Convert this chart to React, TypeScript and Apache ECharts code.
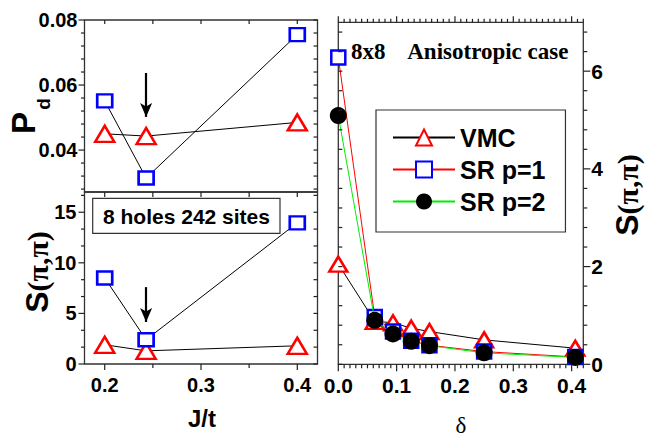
import React, { useEffect, useRef } from 'react';
import * as echarts from 'echarts';

// ---- data ----
const jt = [0.2, 0.243, 0.4];
const pdVMC = [0.045, 0.0443, 0.0485];
const pdSR1 = [0.0551, 0.0314, 0.0755];
const sLeftVMC = [1.9, 1.3, 1.8];
const sLeftSR1 = [8.5, 2.4, 13.95];

const delta = [0, 0.0625, 0.09375, 0.125, 0.15625, 0.25, 0.40625];
const sVMC = [2.05, 0.88, 0.85, 0.74, 0.67, 0.5, 0.33];
const sSR1 = [6.28, 0.97, 0.67, 0.48, 0.39, 0.26, 0.15];
const sSR2 = [5.09, 0.9, 0.62, 0.47, 0.38, 0.235, 0.14];

const arrowJt = 0.243;
const arrowTop = [0.0637, 0.0502];
const arrowBottom = [7.6, 4.15];

// ---- tick labels ----
const jtTicks = [0.2, 0.3, 0.4];
const jtMinor = [0.25, 0.35];
const pdTicks = [0.04, 0.06, 0.08];
const sLeftTicks = [0, 5, 10, 15];
const deltaTicks = [0, 0.1, 0.2, 0.3, 0.4];
const sRightTicks = [0, 2, 4, 6];

const FONT = '"Liberation Sans", Arial, Helvetica, sans-serif';
const SERIF = '"Liberation Serif", "Times New Roman", serif';

function between(a: number, b: number, step: number, skip: number[]) {
  const out: number[] = [];
  for (let i = 0; a + i * step <= b + 1e-9; i++) {
    const v = Math.round((a + i * step) * 1e6) / 1e6;
    if (!skip.some((s) => Math.abs(s - v) < 1e-7)) out.push(v);
  }
  return out;
}

const pdMinor = between(0.028, 0.08, 0.004, pdTicks);
const sLeftMinor = between(0, 17, 5 / 3, sLeftTicks);
const deltaMinor = between(0, 0.42, 0.01, deltaTicks);
const sRightMinor = between(0, 7, 0.4, sRightTicks);

const JT_MIN = 0.179;
const JT_MAX = 0.421;
const PD_MIN = 0.0271;
const PD_MAX = 0.08;
const SL_MAX = 17;
const D_MAX = 0.42;
const SR_MAX = 7;

function ax(gridIndex: number, position: string, min: number, max: number, o: any = {}) {
  return {
    type: 'value',
    gridIndex,
    position,
    min,
    max,
    axisLine: { show: false, onZero: false },
    splitLine: { show: false },
    minorTick: { show: false },
    axisTick: { show: false },
    axisLabel: o.labels
      ? {
          show: true,
          customValues: o.labels,
          formatter: o.fmt,
          margin: o.margin ?? 8,
          fontSize: o.fs ?? 20,
          fontWeight: 'bold',
          fontFamily: FONT,
          color: '#000',
        }
      : { show: false },
  };
}

// tick marks drawn through the axes' own scales
function ticks(xi: number, yi: number, axis: 'x' | 'y', values: number[], at: number, dir: number, len: number) {
  return {
    type: 'custom',
    xAxisIndex: xi,
    yAxisIndex: yi,
    silent: true,
    clip: false,
    z: 6,
    data: values.map((v) => (axis === 'x' ? [v, at] : [at, v])),
    renderItem: (_p: any, api: any) => {
      const p = api.coord([api.value(0), api.value(1)]);
      const x2 = axis === 'x' ? p[0] : p[0] + dir * len;
      const y2 = axis === 'x' ? p[1] + dir * len : p[1];
      return { type: 'line', shape: { x1: p[0], y1: p[1], x2, y2 }, style: { stroke: '#222', lineWidth: 1.2 } };
    },
  };
}

const triLeft = { symbol: 'triangle', symbolSize: [19, 16], itemStyle: { color: '#fff', borderColor: '#ff0000', borderWidth: 2.5 } };
const sqLeft = { symbol: 'rect', symbolSize: [15, 13], itemStyle: { color: '#fff', borderColor: '#0000ff', borderWidth: 2.5 } };

const arrowLine = (from: number, to: number) => ({
  silent: true,
  symbol: ['none', 'arrow'],
  symbolSize: [9, 14],
  label: { show: false },
  lineStyle: { color: '#000', width: 2.2, type: 'solid' },
  data: [[{ coord: [arrowJt, from] }, { coord: [arrowJt, to] }]],
});

const gridStyle = { show: true, borderColor: '#333', borderWidth: 1.3, containLabel: false };

const option: any = {
  animation: false,
  backgroundColor: '#fff',
  grid: [
    { left: 84.5, top: 20, width: 233, height: 172, ...gridStyle },
    { left: 84.5, top: 192, width: 233, height: 172, ...gridStyle },
    { left: 338.3, top: 22.3, width: 245, height: 342, ...gridStyle },
  ],
  xAxis: [
    ax(0, 'bottom', JT_MIN, JT_MAX),
    ax(1, 'bottom', JT_MIN, JT_MAX, { labels: jtTicks, fmt: (v: number) => v.toFixed(1), margin: 11 }),
    ax(2, 'bottom', 0, D_MAX, { labels: deltaTicks, fmt: (v: number) => v.toFixed(1), margin: 11, fs: 21 }),
  ],
  yAxis: [
    ax(0, 'left', PD_MIN, PD_MAX, { labels: pdTicks, fmt: (v: number) => v.toFixed(2), margin: 7 }),
    ax(1, 'left', 0, SL_MAX, { labels: sLeftTicks, fmt: (v: number) => String(v), margin: 8 }),
    ax(2, 'right', 0, SR_MAX, { labels: sRightTicks, fmt: (v: number) => String(v), margin: 8, fs: 21 }),
  ],
  legend: {
    data: ['VMC', 'SR p=1', 'SR p=2'],
    orient: 'vertical',
    left: 376,
    top: 110,
    padding: [15, 20, 18, 16],
    itemWidth: 62,
    itemHeight: 20,
    itemGap: 7,
    borderColor: '#333',
    borderWidth: 1.2,
    backgroundColor: '#fff',
    selectedMode: false,
    textStyle: { fontSize: 25, fontWeight: 'bold', fontFamily: FONT, color: '#000' },
  },
  series: [
    // ticks: top-left panel
    ticks(0, 0, 'x', [...jtTicks, ...jtMinor], PD_MIN, 1, 5),
    ticks(0, 0, 'x', [...jtTicks, ...jtMinor], PD_MAX, 1, 4),
    ticks(0, 0, 'y', pdTicks, JT_MIN, -1, 6),
    ticks(0, 0, 'y', pdMinor, JT_MIN, -1, 3.5),
    ticks(0, 0, 'y', [...pdTicks, ...pdMinor], JT_MAX, -1, 4),
    // ticks: bottom-left panel
    ticks(1, 1, 'x', jtTicks, 0, 1, 6),
    ticks(1, 1, 'x', jtMinor, 0, 1, 4),
    ticks(1, 1, 'y', sLeftTicks, JT_MIN, -1, 6),
    ticks(1, 1, 'y', sLeftMinor, JT_MIN, -1, 3.5),
    ticks(1, 1, 'y', [...sLeftTicks, ...sLeftMinor], JT_MAX, -1, 4),
    // ticks: right panel
    ticks(2, 2, 'x', deltaTicks, 0, 1, 7),
    ticks(2, 2, 'x', deltaMinor, 0, 1, 4),
    ticks(2, 2, 'x', deltaTicks, SR_MAX, -1, 6),
    ticks(2, 2, 'x', deltaMinor, SR_MAX, -1, 3.5),
    ticks(2, 2, 'y', sRightTicks, D_MAX, 1, 7),
    ticks(2, 2, 'y', sRightMinor, D_MAX, 1, 4),
    ticks(2, 2, 'y', [...sRightTicks, ...sRightMinor], 0, 1, 4),
    {
      type: 'line', name: 'pd-VMC', xAxisIndex: 0, yAxisIndex: 0,
      data: jt.map((x, i) => [x, pdVMC[i]]),
      lineStyle: { color: '#000', width: 1 }, ...triLeft, z: 3,
    },
    {
      type: 'line', name: 'pd-SR1', xAxisIndex: 0, yAxisIndex: 0,
      data: jt.map((x, i) => [x, pdSR1[i]]),
      lineStyle: { color: '#000', width: 1 }, ...sqLeft, z: 4,
      markLine: arrowLine(arrowTop[0], arrowTop[1]),
    },
    {
      type: 'line', name: 's-VMC', xAxisIndex: 1, yAxisIndex: 1,
      data: jt.map((x, i) => [x, sLeftVMC[i]]),
      lineStyle: { color: '#000', width: 1 }, ...triLeft, z: 3,
    },
    {
      type: 'line', name: 's-SR1', xAxisIndex: 1, yAxisIndex: 1,
      data: jt.map((x, i) => [x, sLeftSR1[i]]),
      lineStyle: { color: '#000', width: 1 }, ...sqLeft, z: 4,
      markLine: arrowLine(arrowBottom[0], arrowBottom[1]),
    },
    {
      type: 'line', name: 'VMC', xAxisIndex: 2, yAxisIndex: 2,
      data: delta.map((x, i) => [x, sVMC[i]]),
      lineStyle: { color: '#000', width: 1 },
      symbol: 'triangle', symbolSize: [18, 15],
      itemStyle: { color: '#fff', borderColor: '#ff0000', borderWidth: 2.5 }, z: 3,
    },
    {
      type: 'line', name: 'SR p=1', xAxisIndex: 2, yAxisIndex: 2,
      data: delta.map((x, i) => [x, sSR1[i]]),
      lineStyle: { color: '#ff0000', width: 1 },
      symbol: 'rect', symbolSize: 14,
      itemStyle: { color: '#fff', borderColor: '#0000ff', borderWidth: 2.5 }, z: 4,
    },
    {
      type: 'line', name: 'SR p=2', xAxisIndex: 2, yAxisIndex: 2,
      data: delta.map((x, i) => [x, sSR2[i]]),
      lineStyle: { color: '#00ee00', width: 1 },
      symbol: 'circle', symbolSize: 17,
      itemStyle: { color: '#000', borderColor: '#000', borderWidth: 0 }, z: 5,
    },
  ],
  graphic: [
    { type: 'text', x: 23, y: 123, rotation: Math.PI / 2, style: { text: 'P', font: `bold 33px ${FONT}`, fill: '#000', align: 'center', verticalAlign: 'middle' } },
    { type: 'text', x: 43, y: 104, rotation: Math.PI / 2, style: { text: 'd', font: `bold 19px ${FONT}`, fill: '#000', align: 'center', verticalAlign: 'middle' } },
    {
      type: 'text', x: 37, y: 272, rotation: Math.PI / 2,
      style: {
        text: '{a|S}{b|(π,π)}', align: 'center', verticalAlign: 'middle',
        rich: { a: { font: `bold 32px ${FONT}`, fill: '#000' }, b: { font: `bold 30px ${SERIF}`, fill: '#000' } },
      },
    },
    {
      type: 'text', x: 627, y: 195, rotation: Math.PI / 2,
      style: {
        text: '{a|S}{b|(π,π)}', align: 'center', verticalAlign: 'middle',
        rich: { a: { font: `bold 32px ${FONT}`, fill: '#000' }, b: { font: `bold 30px ${SERIF}`, fill: '#000' } },
      },
    },
    { type: 'text', x: 202, y: 418, style: { text: 'J/t', font: `bold 24px ${FONT}`, fill: '#000', align: 'center', verticalAlign: 'middle' } },
    { type: 'text', x: 461, y: 425, style: { text: 'δ', font: `23px ${SERIF}`, fill: '#000', align: 'center', verticalAlign: 'middle' } },
    { type: 'text', x: 351, y: 51, style: { text: '8x8    Anisotropic case', font: `bold 23px ${SERIF}`, fill: '#000', align: 'left', verticalAlign: 'middle' } },
    { type: 'rect', shape: { x: 92.7, y: 198.3, width: 187.3, height: 35 }, style: { fill: '#fff', stroke: '#333', lineWidth: 1.2 }, z: 10 },
    { type: 'text', x: 186.5, y: 216, z: 11, style: { text: '8 holes 242 sites', font: `bold 21px ${FONT}`, fill: '#000', align: 'center', verticalAlign: 'middle' } },
  ],
};

export default function App() {
  const ref = useRef<HTMLDivElement>(null);
  useEffect(() => {
    const chart = echarts.init(ref.current!, undefined, { renderer: 'svg' });
    chart.setOption(option);
    return () => chart.dispose();
  }, []);
  return <div ref={ref} style={{ position: 'fixed', left: 0, top: 0, width: 646, height: 436 }} />;
}
